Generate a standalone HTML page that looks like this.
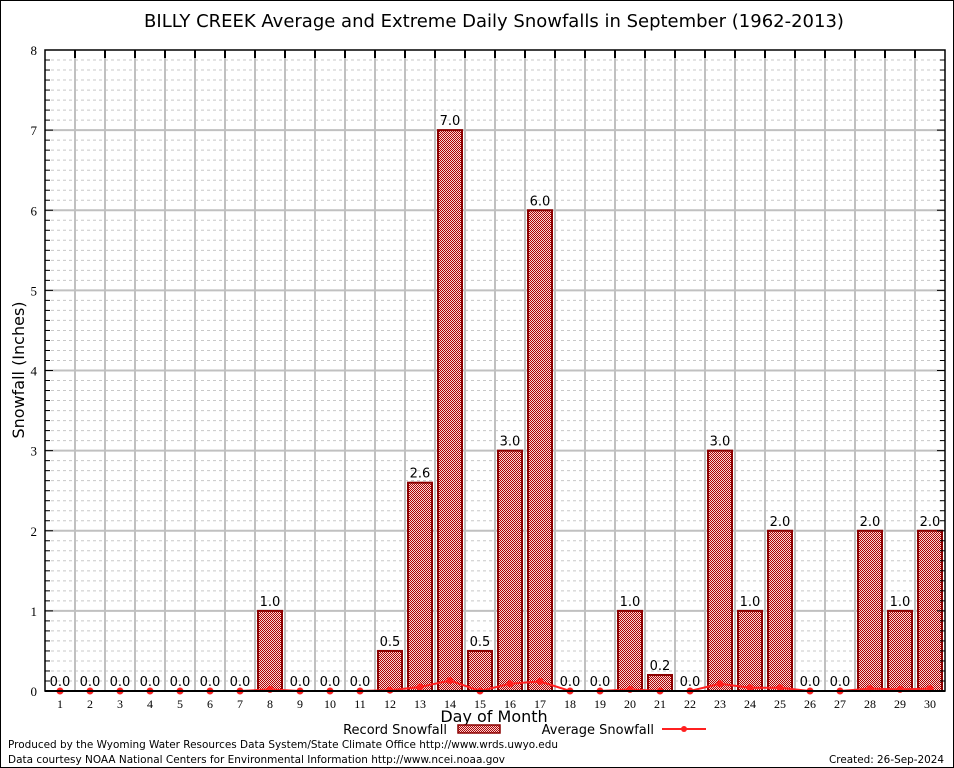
<!DOCTYPE html>
<html><head><meta charset="utf-8"><style>
body{margin:0;background:#fff;}
svg{display:block;font-family:"DejaVu Sans","Liberation Sans",sans-serif;}
</style></head><body>
<svg id="chart" width="954" height="768" viewBox="0 0 954 768" xmlns="http://www.w3.org/2000/svg">
<defs>
<pattern id="chk" width="2" height="2" patternUnits="userSpaceOnUse">
<rect width="2" height="2" fill="#f4d8d8"/><rect width="1" height="1" fill="#b00000"/><rect x="1" y="1" width="1" height="1" fill="#b00000"/>
</pattern>
</defs>
<rect x="0.5" y="0.5" width="953" height="767" fill="#fff" stroke="#000"/>
<text x="494" y="27" text-anchor="middle" font-size="18">BILLY CREEK Average and Extreme Daily Snowfalls in September (1962-2013)</text>
<g id="grid"></g>
<g id="bars"></g>
<g id="avg"></g>
<g id="axes"></g>
<text x="24" y="370" transform="rotate(-90 24 370)" text-anchor="middle" font-size="16">Snowfall (Inches)</text>
<text x="494" y="722" text-anchor="middle" font-size="16">Day of Month</text>
<g>
<text x="447" y="734" text-anchor="end" font-size="13">Record Snowfall</text>
<rect x="458" y="725" width="42" height="8" fill="url(#chk)" stroke="#8b0000" stroke-width="1.5"/>
</g>
<g>
<text x="654" y="734" text-anchor="end" font-size="13">Average Snowfall</text>
<line x1="662" y1="729" x2="706" y2="729" stroke="#ff2020" stroke-width="2"/>
<circle cx="684" cy="729" r="3" fill="#ff2020"/>
</g>
<text x="8" y="748" font-size="11" textLength="550" lengthAdjust="spacingAndGlyphs">Produced by the Wyoming Water Resources Data System/State Climate Office http://www.wrds.uwyo.edu</text>
<text x="8" y="763" font-size="11" textLength="497" lengthAdjust="spacingAndGlyphs">Data courtesy NOAA National Centers for Environmental Information http://www.ncei.noaa.gov</text>
<text x="944" y="763" text-anchor="end" font-size="11" textLength="115" lengthAdjust="spacingAndGlyphs">Created:  26-Sep-2024</text>
</svg>
<script>
const days = [1,2,3,4,5,6,7,8,9,10,11,12,13,14,15,16,17,18,19,20,21,22,23,24,25,26,27,28,29,30];
const recordSnow = [0,0,0,0,0,0,0,1,0,0,0,0.5,2.6,7,0.5,3,6,0,0,1,0.2,0,3,1,2,0,0,2,1,2];
const avgSnow = [0,0,0,0,0,0,0,0.02,0,0,0,0.01,0.05,0.13,0,0.09,0.12,0,0,0.02,0,0,0.09,0.04,0.04,0,0,0.03,0.02,0.03];
const yTicks = [0,1,2,3,4,5,6,7,8];
const NS='http://www.w3.org/2000/svg';
const L=45,R=945,T=50,B=691,YMAX=8;
const x=d=>L+(R-L)/days.length*(d-0.5);
const y=v=>B-(B-T)*v/YMAX;
function mk(tag,attrs,parent){const e=document.createElementNS(NS,tag);for(const k in attrs)e.setAttribute(k,attrs[k]);parent.appendChild(e);return e;}
const grid=document.getElementById('grid'),axes=document.getElementById('axes'),bars=document.getElementById('bars'),avg=document.getElementById('avg');
for(let i=1;i<YMAX*8;i++){const v=i/8;const major=i%8===0;
 const ln=mk('line',{x1:L,x2:R,y1:y(v),y2:y(v),stroke:major?'#c0c0c0':'#c8c8c8','stroke-width':major?2:1,'stroke-dasharray':major?'':'3,3'},grid);
 
 
 mk('line',{x1:L,x2:L+(major?8:5),y1:y(v),y2:y(v),stroke:'#000'},axes);
 mk('line',{x1:R,x2:R-(major?8:5),y1:y(v),y2:y(v),stroke:'#000'},axes);
}
for(let i=1;i<days.length;i++){const gx=L+(R-L)/days.length*i;
 const ln=mk('line',{x1:gx,x2:gx,y1:T,y2:B,stroke:'#c0c0c0','stroke-width':2},grid);
 
 
 mk('line',{x1:gx,x2:gx,y1:T,y2:T+8,stroke:'#000','stroke-width':2},axes);
}
mk('rect',{x:L,y:T,width:R-L,height:B-T,fill:'none',stroke:'#000','stroke-width':1.5},axes);
mk('line',{x1:L,x2:R,y1:B,y2:B,stroke:'#000','stroke-width':2},axes);
yTicks.forEach(v=>{const t=mk('text',{x:L-8,y:y(v)+5,'text-anchor':'end','font-size':13,'font-family':'Liberation Serif,serif'},axes);t.textContent=v;
 
 });
days.forEach((d,i)=>{
 const t=mk('text',{x:x(d),y:B+17,'text-anchor':'middle','font-size':12,'font-family':'Liberation Serif,serif'},axes);t.textContent=d;
 
 
 const v=recordSnow[i];
 if(v>0){const r=mk('rect',{x:x(d)-12,y:y(v),width:24,height:B-y(v),fill:'url(#chk)',stroke:'#8b0000','stroke-width':2},bars);
  
  }
 const lb=mk('text',{x:x(d),y:y(v)-5,'text-anchor':'middle','font-size':13},bars);lb.textContent=v.toFixed(1);
 
 
});
const pts=days.map((d,i)=>x(d)+','+y(avgSnow[i])).join(' ');
const pl=mk('polyline',{points:pts,fill:'none',stroke:'#ff2020','stroke-width':2},avg);


days.forEach((d,i)=>{const c=mk('circle',{cx:x(d),cy:y(avgSnow[i]),r:3.5,fill:'#ff2020'},avg);
 
 });
</script>
</body></html>
